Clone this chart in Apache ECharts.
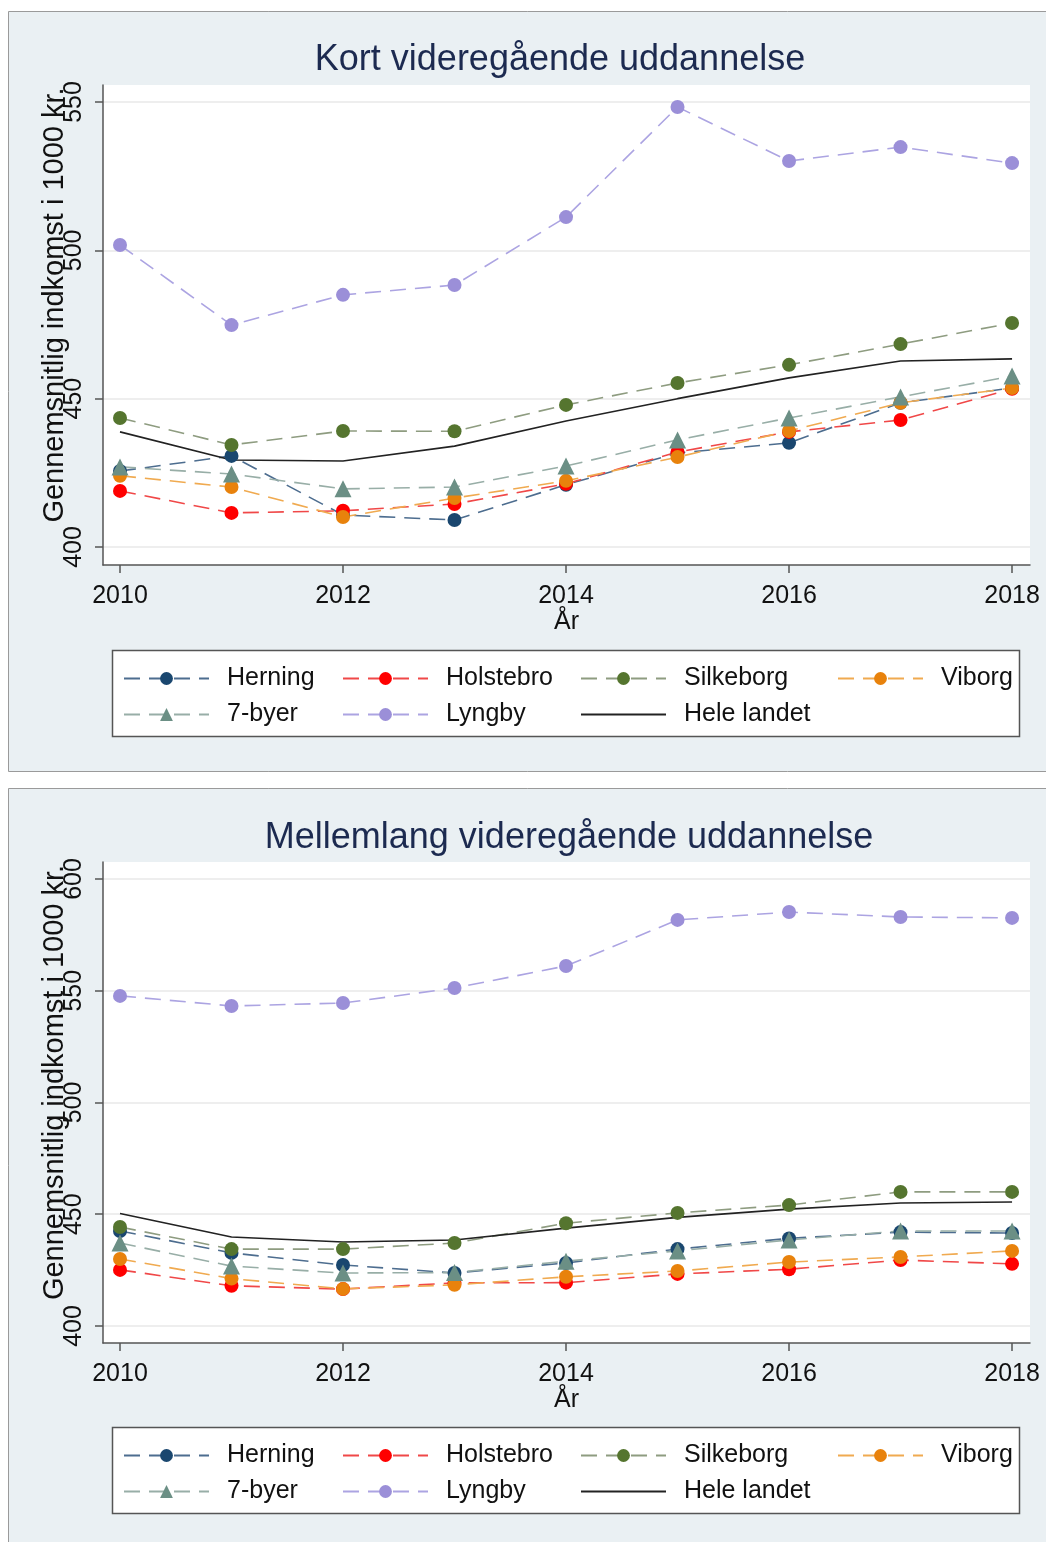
<!DOCTYPE html>
<html>
<head>
<meta charset="utf-8">
<script src="https://cdn.jsdelivr.net/npm/echarts@6/dist/echarts.min.js"></script>
<style>
html,body{margin:0;padding:0;background:#fff;}
#c{width:1046px;height:1542px;}
</style>
</head>
<body>
<div id="c"></div>
<script>
// ---------- DATA ----------
const years = [2010, 2011, 2012, 2013, 2014, 2015, 2016, 2017, 2018];
const xTicks = [2010, 2012, 2014, 2016, 2018];

const seriesNames = ['Herning', 'Holstebro', 'Silkeborg', 'Viborg', '7-byer', 'Lyngby', 'Hele landet'];

// Panel 1: Kort videregående uddannelse
const title1 = 'Kort videregående uddannelse';
const yTicks1 = [400, 450, 500, 550];
const kortHerning    = [425.6, 430.7, 410.8, 409.1, 421.0, 431.7, 435.1, 448.6, 453.6];
const kortHolstebro  = [418.9, 411.5, 412.2, 414.5, 421.3, 432.0, 438.8, 442.8, 453.3];
const kortSilkeborg  = [443.5, 434.4, 439.1, 439.0, 447.9, 455.3, 461.4, 468.4, 475.5];
const kortViborg     = [424.0, 420.2, 410.1, 416.5, 422.3, 430.3, 439.1, 448.6, 453.6];
const kort7byer      = [427.0, 424.6, 419.6, 420.2, 427.3, 436.1, 443.5, 450.6, 457.6];
const kortLyngby     = [501.8, 474.8, 485.0, 488.3, 511.2, 548.3, 530.1, 534.8, 529.4];
const kortHeleLandet = [438.8, 429.3, 429.0, 434.0, 442.5, 450.0, 457.0, 462.7, 463.4];

// Panel 2: Mellemlang videregående uddannelse
const title2 = 'Mellemlang videregående uddannelse';
const yTicks2 = [400, 450, 500, 550, 600];
const melHerning    = [442.5, 432.7, 427.3, 423.7, 428.2, 434.4, 439.2, 442.0, 441.6];
const melHolstebro  = [425.1, 418.0, 416.5, 419.3, 419.4, 423.3, 425.4, 429.5, 427.8];
const melSilkeborg  = [444.3, 434.4, 434.4, 437.1, 446.0, 450.6, 454.1, 460.0, 460.0];
const melViborg     = [430.0, 421.2, 416.6, 418.4, 422.0, 424.6, 428.6, 430.9, 433.6];
const mel7byer      = [437.1, 426.8, 423.7, 423.9, 429.0, 433.6, 438.5, 442.5, 442.5];
const melLyngby     = [547.7, 543.2, 544.5, 551.2, 561.1, 581.7, 585.2, 583.0, 582.6];
const melHeleLandet = [450.3, 439.8, 437.6, 438.5, 443.8, 448.6, 452.3, 455.0, 455.5];

const yTitle = 'Gennemsnitlig indkomst i 1000 kr.';
const xTitle = 'År';

// ---------- STYLES ----------
const FONT = '"Liberation Sans", Arial, Helvetica, sans-serif';
const styles = {
  'Herning':     {marker: '#1a476f', line: '#4d6d8f', symbol: 'circle',   size: 14, dash: [16, 9], width: 1.6},
  'Holstebro':   {marker: '#ff0000', line: '#f04848', symbol: 'circle',   size: 14, dash: [16, 9], width: 1.6},
  'Silkeborg':   {marker: '#55752f', line: '#8e9c80', symbol: 'circle',   size: 14, dash: [16, 9], width: 1.6},
  'Viborg':      {marker: '#e8820c', line: '#f0aa50', symbol: 'circle',   size: 14, dash: [16, 9], width: 1.6},
  '7-byer':      {marker: '#6b8f85', line: '#98aea7', symbol: 'triangle', size: 17, dash: [16, 9], width: 1.6},
  'Lyngby':      {marker: '#9b8fd8', line: '#aca4e2', symbol: 'circle',   size: 14, dash: [16, 9], width: 1.6},
  'Hele landet': {marker: '#222222', line: '#222222', symbol: 'none',     size: 0,  dash: 'solid', width: 1.6}
};

const panels = [
  {title: title1, titleX: 560, titleY: 42, dy: 0, yMin: 393.93, yMax: 555.73, splitNumber: 3, yTicks: yTicks1,
   data: [kortHerning, kortHolstebro, kortSilkeborg, kortViborg, kort7byer, kortLyngby, kortHeleLandet]},
  {title: title2, titleX: 569, titleY: 820, dy: 777, yMin: 392.39, yMax: 607.6, splitNumber: 4, yTicks: yTicks2,
   data: [melHerning, melHolstebro, melSilkeborg, melViborg, mel7byer, melLyngby, melHeleLandet]}
];

const legendPos = [
  ['Herning', 123, 0], ['Holstebro', 342, 0], ['Silkeborg', 580, 0], ['Viborg', 837, 0],
  ['7-byer', 123, 1], ['Lyngby', 342, 1], ['Hele landet', 580, 1]
];

const option = {
  animation: false,
  backgroundColor: '#ffffff',
  textStyle: {fontFamily: FONT},
  title: [], grid: [], xAxis: [], yAxis: [], series: [], legend: [],
  graphic: []
};

// panel backgrounds
option.graphic.push({type: 'rect', z: -10, silent: true,
  shape: {x: 8.5, y: 11.5, width: 1050, height: 760}, style: {fill: '#eaf0f3', stroke: '#9a9a9a', lineWidth: 1}});
option.graphic.push({type: 'rect', z: -10, silent: true,
  shape: {x: 8.5, y: 788.5, width: 1050, height: 770}, style: {fill: '#eaf0f3', stroke: '#9a9a9a', lineWidth: 1}});

panels.forEach((p, i) => {
  const dy = p.dy;
  option.title.push({
    text: p.title, left: p.titleX, top: p.titleY, textAlign: 'center', padding: 0,
    textStyle: {fontFamily: FONT, fontSize: 36, fontWeight: 'normal', color: '#1c2a50'}
  });
  option.grid.push({left: 103, top: 85 + dy, width: 927, height: 480 + (i === 1 ? 1 : 0),
    show: true, backgroundColor: '#ffffff', borderWidth: 0, containLabel: false});
  option.xAxis.push({
    gridIndex: i, type: 'value', min: 2009.8475, max: 2018.161,
    name: xTitle, nameLocation: 'middle', nameGap: 45, nameMoveOverlap: false,
    nameTextStyle: {fontFamily: FONT, fontSize: 25, color: '#111'},
    axisLine: {show: true, onZero: false, lineStyle: {color: '#555', width: 1.5}},
    axisTick: {show: true, length: 8, customValues: xTicks, lineStyle: {color: '#555', width: 1.5}},
    axisLabel: {customValues: xTicks, fontFamily: FONT, fontSize: 25, color: '#111', margin: 19,
      formatter: v => String(v)},
    splitLine: {show: false}
  });
  option.yAxis.push({
    gridIndex: i, type: 'value', min: p.yMin, max: p.yMax, splitNumber: p.splitNumber,
    name: yTitle, nameLocation: 'middle', nameRotate: 90, nameGap: 34, nameMoveOverlap: false,
    nameTextStyle: {fontFamily: FONT, fontSize: 29, color: '#111', padding: [0, 0, 0, 40]},
    axisLine: {show: true, onZero: false, lineStyle: {color: '#555', width: 1.5}},
    axisTick: {show: true, length: 8, customValues: p.yTicks, lineStyle: {color: '#555', width: 1.5}},
    axisLabel: {customValues: p.yTicks, rotate: 90, fontFamily: FONT, fontSize: 25, color: '#111', margin: 16,
      formatter: v => String(v)},
    splitLine: {show: true, lineStyle: {color: '#e8e8e8', width: 1.5}}
  });
  seriesNames.forEach((name, k) => {
    const s = styles[name];
    option.series.push({
      name: name, type: 'line', xAxisIndex: i, yAxisIndex: i,
      data: years.map((y, j) => [y, p.data[k][j]]),
      symbol: s.symbol, symbolSize: s.size, showSymbol: s.symbol !== 'none',
      itemStyle: {color: s.marker},
      lineStyle: {color: s.line, type: s.dash, width: s.width},
      emphasis: {disabled: true}, z: 2
    });
  });
  // legend box
  option.graphic.push({type: 'rect', z: -5, silent: true,
    shape: {x: 112.5, y: 650.5 + dy, width: 907, height: 86}, style: {fill: '#ffffff', stroke: '#555555', lineWidth: 1.5}});
  legendPos.forEach(([name, lx, row]) => {
    const item = name === 'Hele landet'
      ? {name: name, itemStyle: {color: 'rgba(0,0,0,0)', borderWidth: 0, opacity: 0}}
      : {name: name};
    option.legend.push({
      data: [item], left: lx, top: (row === 0 ? 676 : 712) + dy - 10,
      padding: 0, itemWidth: 85, itemHeight: 16, selectedMode: false,
      textStyle: {fontFamily: FONT, fontSize: 25, color: '#111', padding: [0, 0, 0, 13]}
    });
  });
});

const chart = echarts.init(document.getElementById('c'), null, {renderer: 'canvas'});
chart.setOption(option);
</script>
</body>
</html>
